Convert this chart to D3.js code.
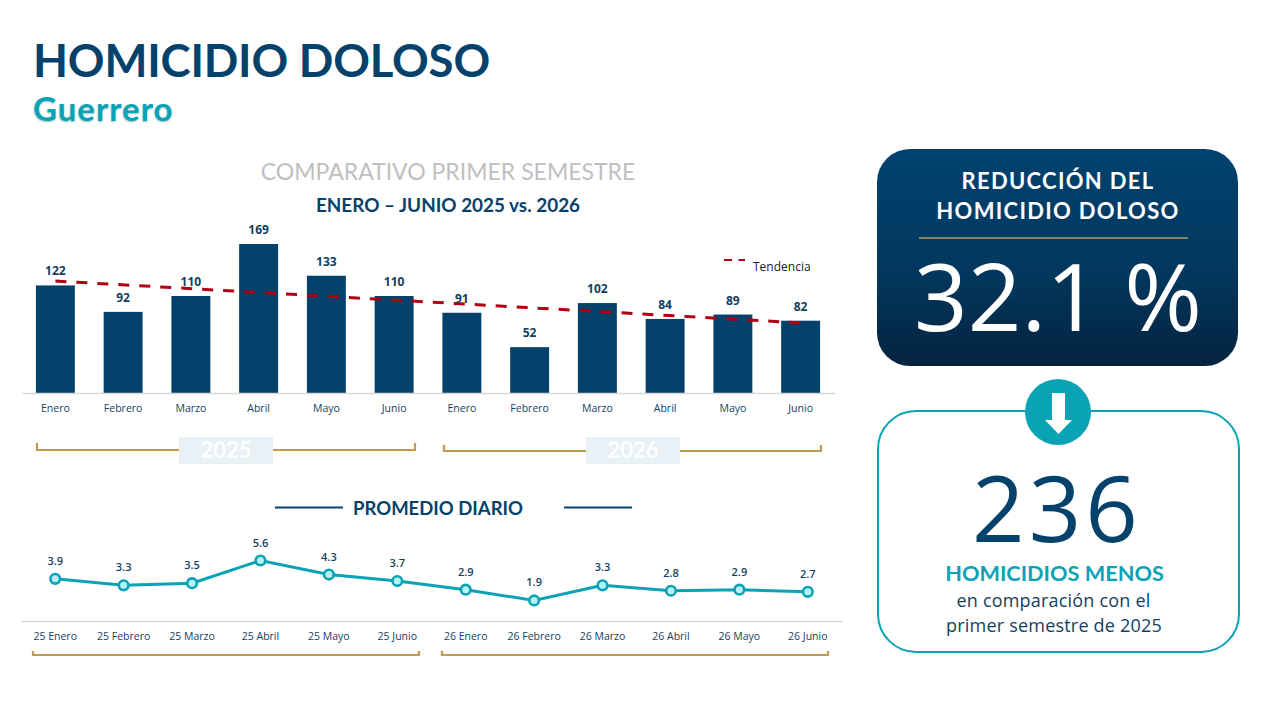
<!DOCTYPE html>
<html>
<head>
<meta charset="utf-8">
<script src="https://cdn.jsdelivr.net/npm/d3@7"></script>
<style>
  html, body { margin: 0; padding: 0; background: #fff; }
  svg { display: block; }
  .axis text { font-family: "Open Sans", sans-serif; font-size: 10.5px; fill: #123f5f; }
  .axis path { stroke: #d6d9db; stroke-width: 1.3px; }
</style>
</head>
<body>
<svg width="1280" height="720"></svg>
<script>
const barCats = ["Enero", "Febrero", "Marzo", "Abril", "Mayo", "Junio", "Enero ", "Febrero ", "Marzo ", "Abril ", "Mayo ", "Junio "];
const barValues = [122, 92, 110, 169, 133, 110, 91, 52, 102, 84, 89, 82];
const trendValues = [127, 79.5];
const lineCats = ["25 Enero", "25 Febrero", "25 Marzo", "25 Abril", "25 Mayo", "25 Junio", "26 Enero", "26 Febrero", "26 Marzo", "26 Abril", "26 Mayo", "26 Junio"];
const lineValues = [3.9, 3.3, 3.5, 5.6, 4.3, 3.7, 2.9, 1.9, 3.3, 2.8, 2.9, 2.7];

const navy = "#05426b";
const teal = "#0aa3b5";
const gold = "#bf9a50";
const trendRed = "#b00012";
const calibri = "Lato, sans-serif";
const segoe = "'Open Sans', sans-serif";

const svg = d3.select("svg");

function label(x, y, str, size, color, opts = {}) {
  return svg.append("text")
    .attr("x", x)
    .attr("y", y)
    .attr("text-anchor", opts.anchor || "middle")
    .attr("font-family", opts.font || calibri)
    .attr("font-size", size)
    .attr("font-weight", opts.weight || 400)
    .attr("letter-spacing", opts.spacing || 0)
    .attr("fill", color)
    .text(str);
}

function bracket(x0, x1, top, bottom) {
  svg.append("path")
    .attr("d", `M${x0},${top} V${bottom} H${x1} V${top}`)
    .attr("fill", "none")
    .attr("stroke", gold)
    .attr("stroke-width", 2.2);
}

// titles
label(33, 77, "HOMICIDIO DOLOSO", 45.5, navy, { anchor: "start", weight: 700, spacing: -0.2 });
label(33, 121, "Guerrero", 33, teal, { anchor: "start", weight: 700, spacing: 1 })
  .style("text-shadow", "0 1px 2px rgba(10,120,135,.45)");
label(448, 180, "COMPARATIVO PRIMER SEMESTRE", 23, "#bfbfbf", { weight: 400 });
label(448, 212, "ENERO – JUNIO 2025 vs. 2026", 18.9, navy, { weight: 700 });

// bar chart
const xBar = d3.scaleBand().domain(barCats).range([21.5, 834.5]).paddingInner(0.425).paddingOuter(0.2125);
const yBar = d3.scaleLinear().domain([0, 169]).range([393, 244]);

svg.append("g")
  .selectAll("rect")
  .data(barValues)
  .enter()
  .append("rect")
  .attr("x", (d, i) => xBar(barCats[i]))
  .attr("y", d => yBar(d))
  .attr("width", xBar.bandwidth())
  .attr("height", d => yBar(0) - yBar(d))
  .attr("fill", navy);

svg.append("g")
  .attr("class", "axis")
  .attr("transform", "translate(0,393)")
  .call(d3.axisBottom(xBar).tickSize(0).tickPadding(11.5));

// trend line, first to last month
const trendX = [barCats[0], barCats[barCats.length - 1]].map(c => xBar(c) + xBar.bandwidth() / 2);
svg.append("path")
  .attr("d", d3.line().x((d, i) => trendX[i]).y(d => yBar(d))(trendValues))
  .attr("fill", "none")
  .attr("stroke", trendRed)
  .attr("stroke-width", 3)
  .attr("stroke-dasharray", "11 10");

svg.append("g")
  .selectAll("text")
  .data(barValues)
  .enter()
  .append("text")
  .attr("x", (d, i) => xBar(barCats[i]) + xBar.bandwidth() / 2)
  .attr("y", d => yBar(d) - 10)
  .attr("text-anchor", "middle")
  .attr("font-family", segoe)
  .attr("font-size", 12)
  .attr("font-weight", 700)
  .attr("fill", "#123f5f")
  .text(d => d);

// legend
svg.append("line")
  .attr("x1", 724).attr("x2", 745).attr("y1", 260).attr("y2", 260)
  .attr("stroke", trendRed).attr("stroke-width", 2.2).attr("stroke-dasharray", "8 6.5");
label(753, 271, "Tendencia", 12, "#222", { anchor: "start", font: segoe });

// year brackets
bracket(37, 415, 443, 450);
bracket(444, 821, 445, 451);
[["2025", 179], ["2026", 586]].forEach(([yr, x]) => {
  svg.append("rect")
    .attr("x", x).attr("y", 437).attr("width", 94).attr("height", 27)
    .attr("fill", "#e8f1f5");
  label(x + 47, 458, yr, 22, "#fff", { weight: 700 });
});

// promedio diario
label(438, 515, "PROMEDIO DIARIO", 18.5, navy, { weight: 700 });
[[275, 343], [564, 632]].forEach(([a, b]) => {
  svg.append("line")
    .attr("x1", a).attr("x2", b).attr("y1", 507.5).attr("y2", 507.5)
    .attr("stroke", navy).attr("stroke-width", 2);
});

const xLine = d3.scaleBand().domain(lineCats).range([21, 842]);
const yLine = d3.scaleLinear().domain([0, 5.6]).range([621, 560.5]);
const cx = (d, i) => xLine(lineCats[i]) + xLine.bandwidth() / 2;

svg.append("g")
  .attr("class", "axis")
  .attr("transform", "translate(0,621)")
  .call(d3.axisBottom(xLine).tickSize(0).tickPadding(11.5));

svg.append("path")
  .attr("d", d3.line().x(cx).y(d => yLine(d))(lineValues))
  .attr("fill", "none")
  .attr("stroke", teal)
  .attr("stroke-width", 3);

svg.append("g")
  .selectAll("circle")
  .data(lineValues)
  .enter()
  .append("circle")
  .attr("cx", cx)
  .attr("cy", d => yLine(d))
  .attr("r", 4.8)
  .attr("fill", "#b5f1f6")
  .attr("stroke", teal)
  .attr("stroke-width", 2.6);

svg.append("g")
  .selectAll("text")
  .data(lineValues)
  .enter()
  .append("text")
  .attr("x", cx)
  .attr("y", d => yLine(d) - 14)
  .attr("text-anchor", "middle")
  .attr("font-family", segoe)
  .attr("font-size", 11)
  .attr("font-weight", 600)
  .attr("fill", "#123f5f")
  .text(d => d.toFixed(1));

bracket(33, 419, 651, 655);
bracket(442, 828, 651, 655);

// right panel, top card
const grad = svg.append("defs").append("linearGradient")
  .attr("id", "card").attr("x1", 0).attr("x2", 0).attr("y1", 0).attr("y2", 1);
grad.append("stop").attr("offset", "0%").attr("stop-color", "#00426f");
grad.append("stop").attr("offset", "55%").attr("stop-color", "#02385f");
grad.append("stop").attr("offset", "100%").attr("stop-color", "#04233f");

svg.append("rect")
  .attr("x", 877).attr("y", 149).attr("width", 361).attr("height", 217).attr("rx", 33)
  .attr("fill", "url(#card)");
label(1058, 189, "REDUCCIÓN DEL", 22, "#fff", { weight: 700, spacing: 1.3 });
label(1058, 219, "HOMICIDIO DOLOSO", 22, "#fff", { weight: 700, spacing: 1.3 });
svg.append("line")
  .attr("x1", 919).attr("x2", 1188).attr("y1", 238).attr("y2", 238)
  .attr("stroke", "#b39f6b").attr("stroke-width", 1.6);
label(1058, 331, "32.1 %", 94, "#fff", { font: segoe });

// right panel, bottom card
svg.append("rect")
  .attr("x", 878).attr("y", 411).attr("width", 361).attr("height", 241).attr("rx", 38)
  .attr("fill", "#fff").attr("stroke", teal).attr("stroke-width", 2);
svg.append("circle")
  .attr("cx", 1058).attr("cy", 412).attr("r", 33).attr("fill", teal);
svg.append("path")
  .attr("d", "M1052,393 H1065 V420 H1072 L1058.5,434 L1045,420 H1052 Z")
  .attr("fill", "#fff");
label(1057, 542, "236", 92, navy, { font: segoe, spacing: 4 });
label(1054.5, 581, "HOMICIDIOS MENOS", 21.7, teal, { weight: 700 });
label(1053.5, 607, "en comparación con el", 18, "#123f5f", { font: segoe, spacing: 0.2 });
label(1054, 632, "primer semestre de 2025", 18, "#123f5f", { font: segoe, spacing: 0.2 });
</script>
</body>
</html>
